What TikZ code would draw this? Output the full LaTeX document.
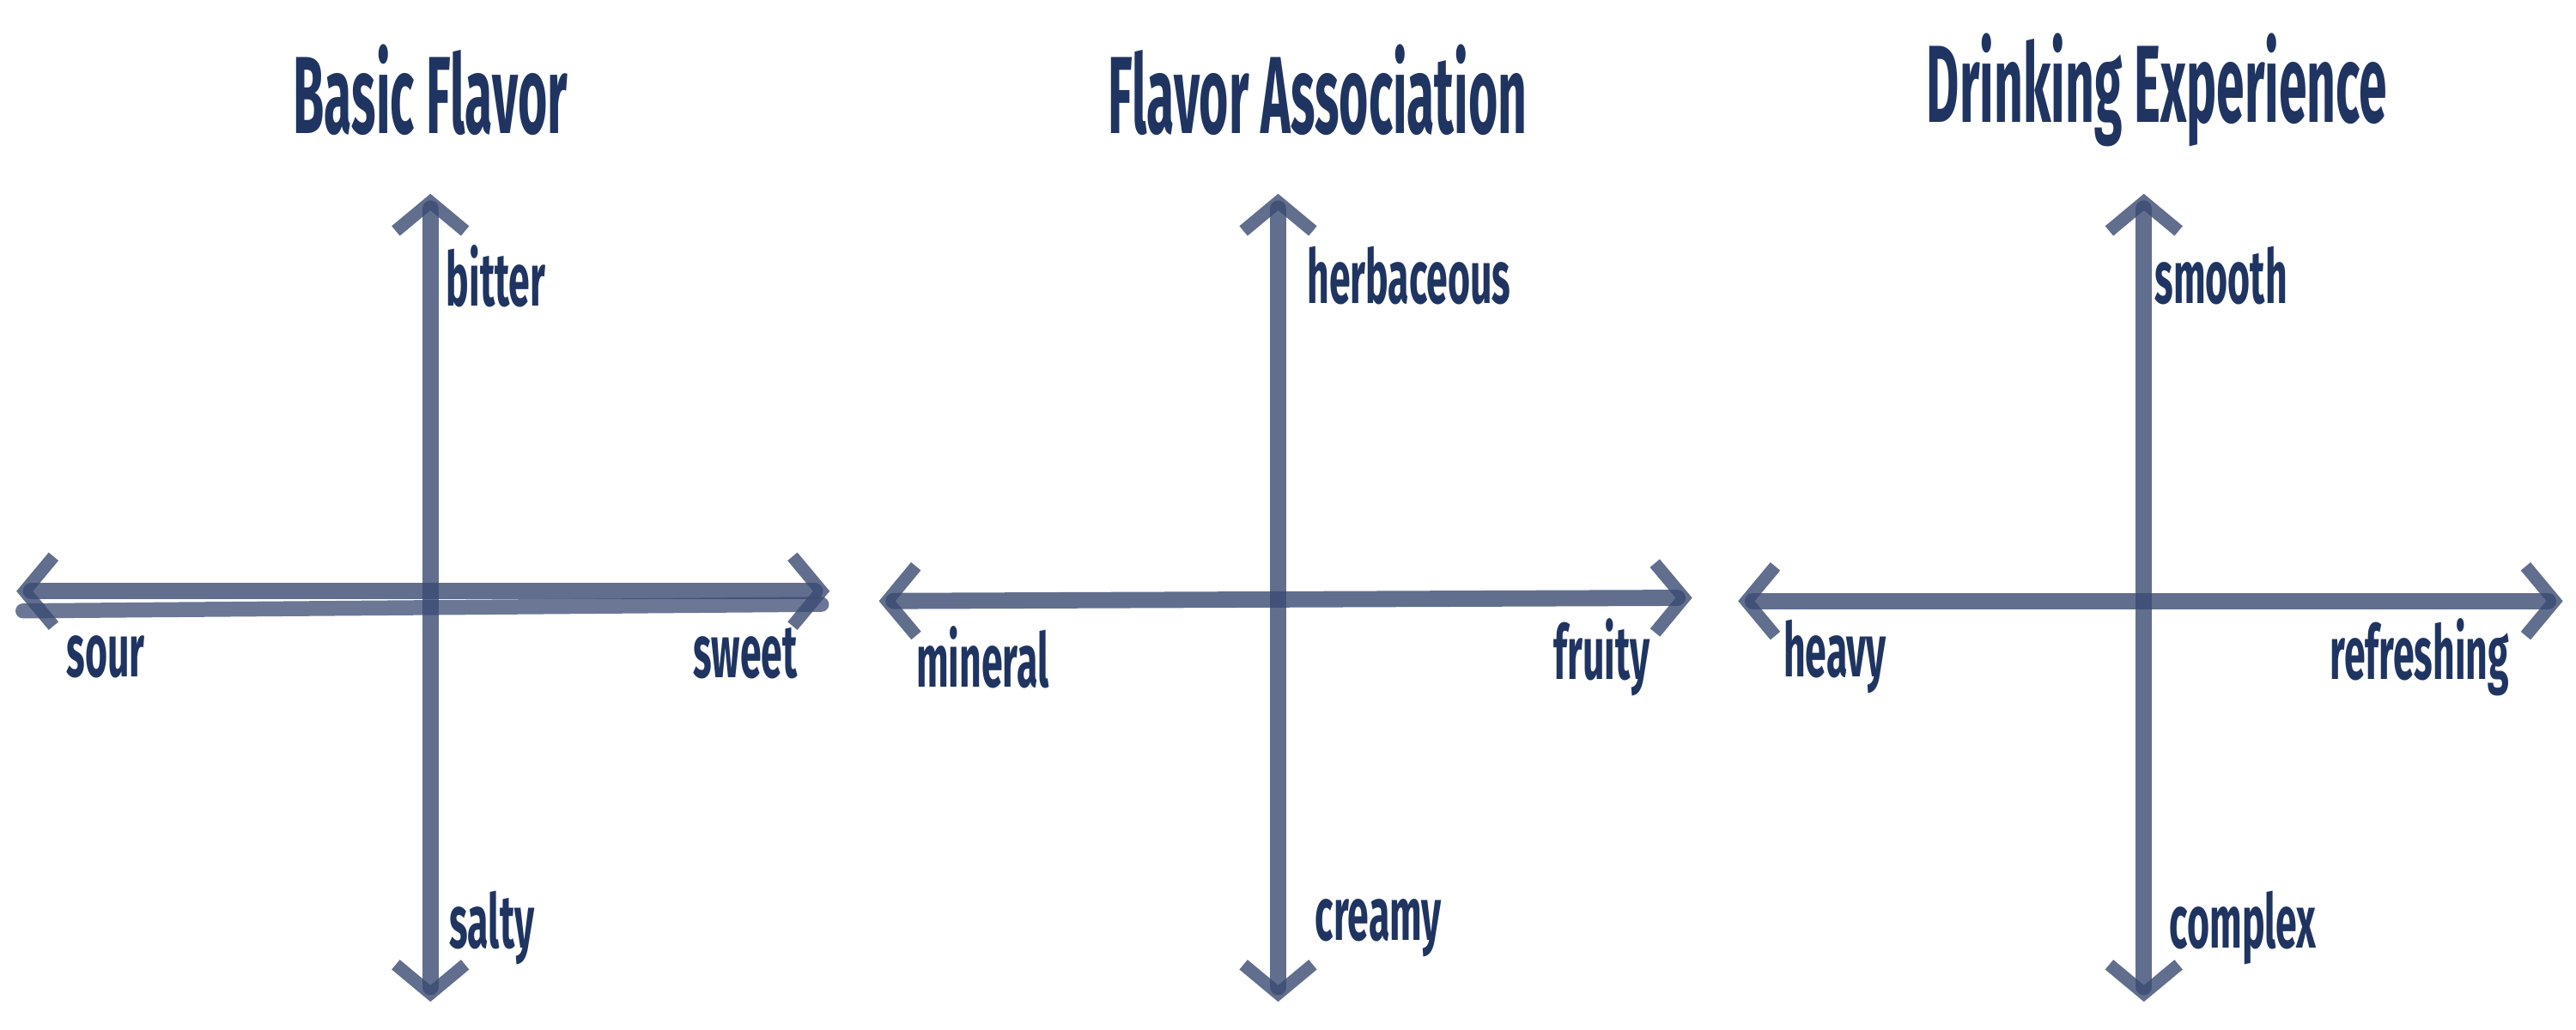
\documentclass[tikz,border=0pt]{standalone}
\usepackage{fontspec}
\setmainfont{Fira Sans}
\usetikzlibrary{arrows.meta}
\definecolor{navy}{HTML}{1F3461}
\definecolor{chalk}{HTML}{3A4A72}
\tikzset{
 axis/.style={draw=chalk, line width=2.8pt, opacity=0.8, line cap=round, {Straight Barb[length=5pt,width=12pt,line width=2.2pt]}-{Straight Barb[length=5pt,width=12pt,line width=2.2pt]}},
 ttl/.style={text=navy, font=\fontsize{19}{22}\selectfont\bfseries},
 lbl/.style={text=navy, inner sep=0pt, font=\fontsize{13}{15}\selectfont\bfseries}
}
\newcommand{\cnd}[1]{\scalebox{0.46}[1]{#1}}
\newcommand{\cnl}[1]{\scalebox{0.51}[1]{#1}}
\begin{document}
\begin{tikzpicture}[x=0.01cm,y=-0.01cm]
\useasboundingbox (0,0) rectangle (1568,627);
% panel 1
\node[ttl] (t1) at (262,55) {\cnd{Basic Flavor}};
\coordinate (v1a) at (262,118); \coordinate (v1b) at (262,610);
\coordinate (h1a) at (10,360); \coordinate (h1b) at (505,360);
\coordinate (h1c) at (14,372); \coordinate (h1d) at (500,368);
\draw[axis] (v1b) -- (v1a);
\draw[axis] (h1a) -- (h1b);
\draw[draw=chalk, line width=2.6pt, opacity=0.75, line cap=round] (h1c) -- (h1d);
\node[lbl,anchor=west] (b1) at (271,168) {\cnl{bitter}};
\node[lbl,anchor=west] (s1) at (40,400) {\cnl{sour}};
\node[lbl,anchor=east] (w1) at (486,398) {\cnl{sweet}};
\node[lbl,anchor=west] (y1) at (273,565) {\cnl{salty}};
% panel 2
\node[ttl] (t2) at (802,55) {\cnd{Flavor Association}};
\coordinate (v2a) at (778,118); \coordinate (v2b) at (778,610);
\coordinate (h2a) at (535,366); \coordinate (h2b) at (1030,364);
\draw[axis] (v2b) -- (v2a);
\draw[axis] (h2a) -- (h2b);
\node[lbl,anchor=west] (b2) at (795,168) {\cnl{herbaceous}};
\node[lbl,anchor=west] (s2) at (557,400) {\cnl{mineral}};
\node[lbl,anchor=east] (w2) at (1005,400) {\cnl{fruity}};
\node[lbl,anchor=west] (y2) at (800,565) {\cnl{creamy}};
% panel 3
\node[ttl] (t3) at (1313,55) {\cnd{Drinking Experience}};
\coordinate (v3a) at (1305,118); \coordinate (v3b) at (1305,610);
\coordinate (h3a) at (1058,366); \coordinate (h3b) at (1560,366);
\draw[axis] (v3b) -- (v3a);
\draw[axis] (h3a) -- (h3b);
\node[lbl,anchor=west] (b3) at (1311,168) {\cnl{smooth}};
\node[lbl,anchor=west] (s3) at (1085,400) {\cnl{heavy}};
\node[lbl,anchor=east] (w3) at (1528,400) {\cnl{refreshing}};
\node[lbl,anchor=west] (y3) at (1320,565) {\cnl{complex}};
\end{tikzpicture}
\end{document}
